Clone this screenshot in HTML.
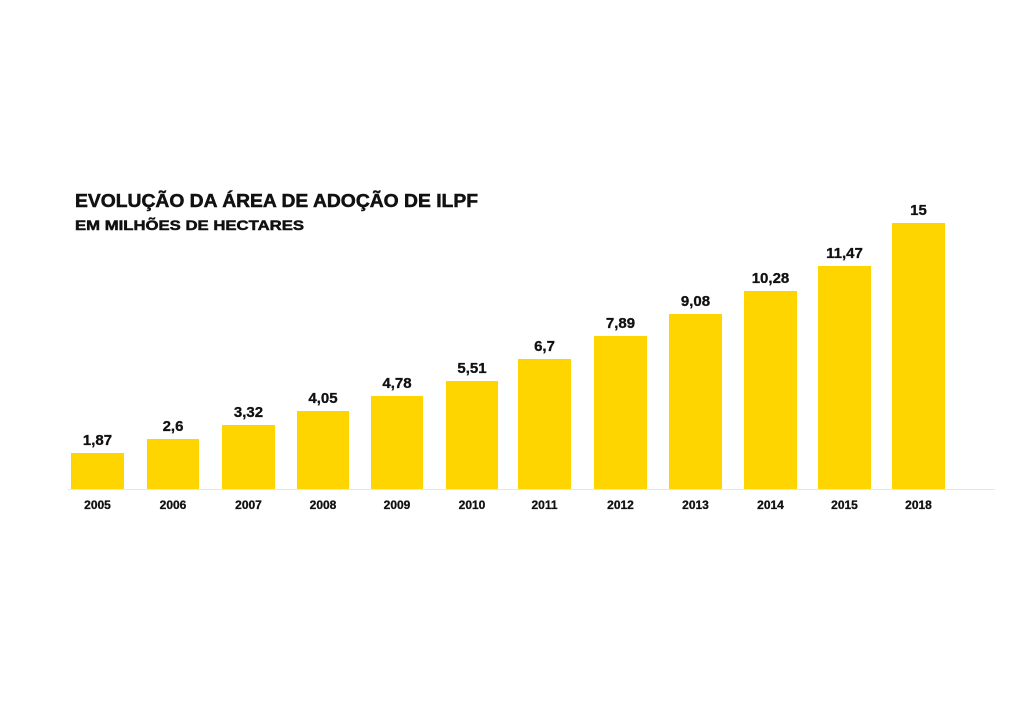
<!DOCTYPE html><html><head><style>body{margin:0;background:#fff}</style></head><body>
<svg width="1024" height="697" xmlns="http://www.w3.org/2000/svg" font-family="Liberation Sans, sans-serif" font-weight="bold" fill="#111">
<g stroke="#111" stroke-width="0.5">
<text x="75" y="207" font-size="18" textLength="403" lengthAdjust="spacingAndGlyphs">EVOLUÇÃO DA ÁREA DE ADOÇÃO DE ILPF</text>
<text x="75" y="230" font-size="14" textLength="229" lengthAdjust="spacingAndGlyphs">EM MILHÕES DE HECTARES</text>
</g>
<line x1="68" y1="489.5" x2="995" y2="489.5" stroke="#e6e6e6" stroke-width="1"/>
<g fill="#FFD500">
<rect x="71" y="453" width="53" height="36"/>
<rect x="147" y="439" width="52" height="50"/>
<rect x="222" y="425" width="53" height="64"/>
<rect x="297" y="411" width="52" height="78"/>
<rect x="371" y="396" width="52" height="93"/>
<rect x="446" y="381" width="52" height="108"/>
<rect x="518" y="359" width="53" height="130"/>
<rect x="594" y="336" width="53" height="153"/>
<rect x="669" y="314" width="53" height="175"/>
<rect x="744" y="291" width="53" height="198"/>
<rect x="818" y="266" width="53" height="223"/>
<rect x="892" y="223" width="53" height="266"/>
</g>
<g font-size="15" text-anchor="middle" stroke="#111" stroke-width="0.3">
<text x="97.5" y="445">1,87</text><text x="173" y="431">2,6</text><text x="248.5" y="417">3,32</text><text x="323" y="403">4,05</text><text x="397" y="388">4,78</text><text x="472" y="373">5,51</text><text x="544.5" y="351">6,7</text><text x="620.5" y="328">7,89</text><text x="695.5" y="306">9,08</text><text x="770.5" y="283">10,28</text><text x="844.5" y="258">11,47</text><text x="918.5" y="215">15</text>
</g>
<g font-size="12" text-anchor="middle" stroke="#111" stroke-width="0.3">
<text x="97.5" y="509">2005</text><text x="173" y="509">2006</text><text x="248.5" y="509">2007</text><text x="323" y="509">2008</text><text x="397" y="509">2009</text><text x="472" y="509">2010</text><text x="544.5" y="509">2011</text><text x="620.5" y="509">2012</text><text x="695.5" y="509">2013</text><text x="770.5" y="509">2014</text><text x="844.5" y="509">2015</text><text x="918.5" y="509">2018</text>
</g>
</svg></body></html>
